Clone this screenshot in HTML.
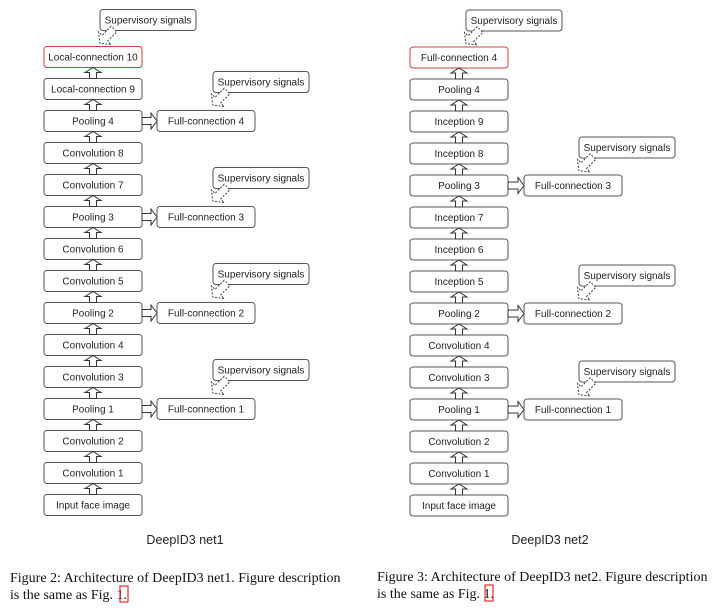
<!DOCTYPE html><html><head><style>body{margin:0;background:#fff}svg{display:block}</style></head><body>
<svg id="s" width="720" height="608" xmlns="http://www.w3.org/2000/svg" font-family="Liberation Sans, sans-serif"></svg>
<script>
const s=document.getElementById('s');let h='';
function box(x,y,w,t,red){h+=`<rect x="${x}" y="${y-10.5}" width="${w}" height="21" rx="3" fill="#fff" stroke="${red?'#c84040':'#555'}" stroke-width="1"/><text x="${x+w/2}" y="${y+3.5}" font-size="10" text-anchor="middle" fill="#222">${t}</text>`;}
function up(cx,yb,yt){h+=`<polygon points="${cx-3.5},${yb} ${cx-3.5},${yt+5} ${cx-8},${yt+5} ${cx},${yt} ${cx+8},${yt+5} ${cx+3.5},${yt+5} ${cx+3.5},${yb}" fill="#fff" stroke="#333" stroke-width="1"/>`;}
function right(x1,x2,cy){h+=`<polygon points="${x1},${cy-3.5} ${x2-6},${cy-3.5} ${x2-6},${cy-8} ${x2},${cy} ${x2-6},${cy+8} ${x2-6},${cy+3.5} ${x1},${cy+3.5}" fill="#fff" stroke="#333" stroke-width="1"/>`;}
function diag(x,y){h+=`<g transform="translate(${x},${y}) rotate(45)"><polygon points="-4,0 -4,13 -9,13 0,20 9,13 4,13 4,0" fill="#fff" stroke="#444" stroke-dasharray="2,1.5" stroke-width="1"/></g>`;}
const L=['Local-connection 10','Local-connection 9','Pooling 4','Convolution 8','Convolution 7','Pooling 3','Convolution 6','Convolution 5','Pooling 2','Convolution 4','Convolution 3','Pooling 1','Convolution 2','Convolution 1','Input face image'];
const R=['Full-connection 4','Pooling 4','Inception 9','Inception 8','Pooling 3','Inception 7','Inception 6','Inception 5','Pooling 2','Convolution 4','Convolution 3','Pooling 1','Convolution 2','Convolution 1','Input face image'];
L.forEach((n,i)=>{const cy=57+32*i;box(44,cy,98,n,i==0);if(i>0)up(93,cy-10.5,cy-21.5);});
box(100,20,96,'Supervisory signals');diag(114,29);
[[2,4],[5,3],[8,2],[11,1]].forEach(([r,k])=>{const cy=57+32*r;right(142,157,cy);box(157,cy,98,'Full-connection '+k);box(213,cy-39,96,'Supervisory signals');diag(227,cy-30);});
R.forEach((n,i)=>{const cy=57.5+32*i;box(410,cy,98,n,i==0);if(i>0)up(459,cy-10.5,cy-21.5);});
box(466,20.5,96,'Supervisory signals');diag(480,29.5);
[[4,3],[8,2],[11,1]].forEach(([r,k])=>{const cy=57.5+32*r;right(508,524,cy);box(524,cy,98,'Full-connection '+k);box(579,cy-38,96,'Supervisory signals');diag(593,cy-29);});
h+=`<text x="185" y="544" font-size="12.5" text-anchor="middle" fill="#222">DeepID3 net1</text><text x="550" y="544" font-size="12.5" text-anchor="middle" fill="#222">DeepID3 net2</text>`;
h+=`<g font-family="Liberation Serif, serif" font-size="14" fill="#111"><text x="10" y="582">Figure 2: Architecture of DeepID3 net1. Figure description</text><text x="10" y="599">is the same as Fig. 1.</text><text x="377" y="581">Figure 3: Architecture of DeepID3 net2. Figure description</text><text x="377" y="598">is the same as Fig. 1.</text></g>`;
h+=`<rect x="120" y="586" width="8" height="16" fill="none" stroke="#d00"/><rect x="485" y="585" width="8" height="16" fill="none" stroke="#d00"/>`;
s.innerHTML=h;
</script></body></html>
